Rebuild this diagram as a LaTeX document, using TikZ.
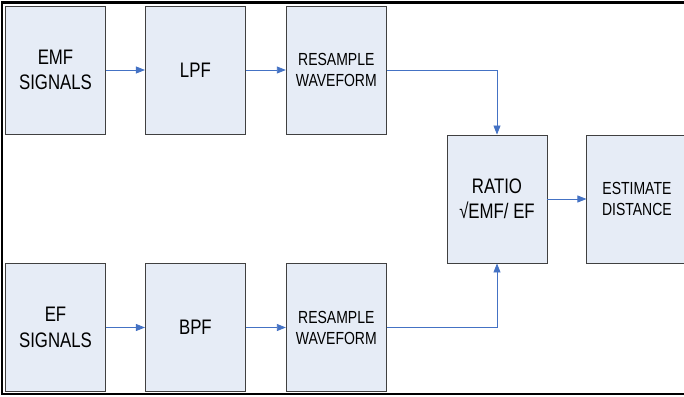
\documentclass[tikz,border=0pt]{standalone}
\usepackage{fontspec}
\setmainfont{Liberation Sans}[FakeStretch=0.8]
\usetikzlibrary{arrows.meta, positioning}
\definecolor{boxfill}{RGB}{230, 236, 246}
\definecolor{boxline}{RGB}{64, 64, 64}
\definecolor{flowblue}{RGB}{68, 114, 196}

\begin{document}
\begin{tikzpicture}[x=1pt, y=-1pt,
  block/.style={draw=boxline, fill=boxfill, line width=0.9pt, minimum width=100pt,
    minimum height=128pt, align=center, inner sep=2pt, font=\fontsize{21}{25.5}\selectfont},
  small/.style={font=\fontsize{17.5}{21}\selectfont},
  flow/.style={draw=flowblue, line width=0.8pt, -{Triangle[length=9pt, width=7pt]}}]
  \useasboundingbox (0,0) rectangle (684,396);

  % outer frame
  \draw[line width=2.5pt] (684,2.5) -- (2,2.5) -- (2,394) -- (684,394);

  % EMF branch
  \node[block] (emf) at (55.5,70) {EMF\\SIGNALS};
  \node[block, right=39pt of emf] (lpf) {LPF};
  \node[block, small, right=40pt of lpf] (resA) {RESAMPLE\\WAVEFORM};

  % EF branch
  \node[block] (ef) at (55.5,327.5) {EF\\SIGNALS};
  \node[block, right=39pt of ef] (bpf) {BPF};
  \node[block, small, right=40pt of bpf] (resB) {RESAMPLE\\WAVEFORM};

  % combine
  \node[block] (ratio) at (497,199) {RATIO\\√EMF/ EF};
  \node[block, small, right=39pt of ratio] (dist) {ESTIMATE\\DISTANCE};

  \draw[flow] (emf) -- (lpf);
  \draw[flow] (lpf) -- (resA);
  \draw[flow] (ef) -- (bpf);
  \draw[flow] (bpf) -- (resB);
  \draw[flow] (resA) -| (ratio);
  \draw[flow] (resB) -| (ratio);
  \draw[flow] (ratio) -- (dist);
\end{tikzpicture}
\end{document}
